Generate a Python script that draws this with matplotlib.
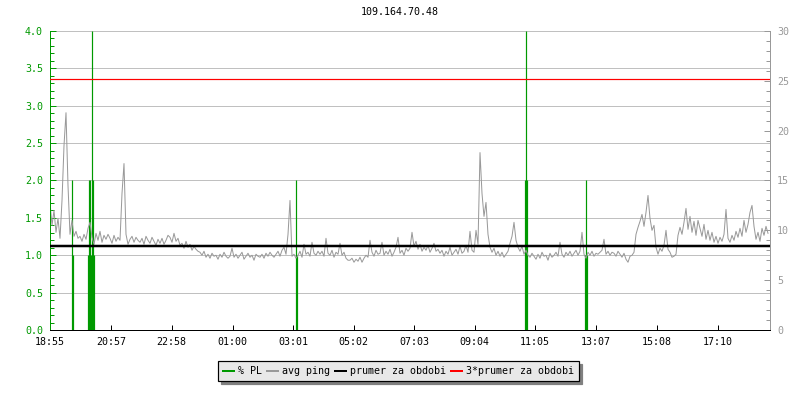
import numpy as np
import matplotlib
matplotlib.use("Agg")
import matplotlib.pyplot as plt
from matplotlib.lines import Line2D

## Data
host = "109.164.70.48"
tick_minutes = [0, 122, 243, 365, 486, 607, 728, 849, 970, 1092, 1213, 1335]
tick_labels = ["18:55", "20:57", "22:58", "01:00", "03:01", "05:02",
               "07:03", "09:04", "11:05", "13:07", "15:08", "17:10"]

# avg ping (ms), one value every 4 minutes starting 18:55, one row per hour
avg_ping = [
    12.8, 10.5, 12.0, 9.8, 11.2, 9.2, 13.0, 18.5, 21.8, 14.5, 9.6, 11.0, 9.4, 9.9, 9.2,
    9.4, 8.9, 9.6, 9.1, 10.2, 10.8, 9.3, 8.6, 9.7, 9.0, 9.9, 8.8, 9.5, 9.1, 9.6,
    9.2, 8.7, 9.5, 8.9, 9.3, 9.0, 13.7, 16.7, 9.6, 8.6, 9.1, 9.4, 8.8, 9.3, 9.0,
    8.8, 9.2, 8.6, 9.4, 9.0, 8.7, 9.3, 8.9, 8.5, 9.1, 8.7, 9.2, 8.6, 9.0, 9.5,
    9.3, 8.8, 9.7, 8.9, 9.2, 8.5, 8.7, 8.2, 8.9, 8.3, 8.6, 8.0, 8.4, 8.1, 7.9,
    7.8, 7.5, 7.9, 7.3, 7.6, 7.2, 7.7, 7.4, 7.5, 7.1, 7.6, 7.3, 7.8, 7.4, 7.2,
    7.4, 8.2, 7.3, 7.6, 7.2, 7.5, 7.8, 7.1, 7.4, 7.7, 7.3, 7.5, 7.0, 7.6, 7.4,
    7.3, 7.6, 7.2, 7.7, 7.4, 7.8, 7.5, 7.3, 7.6, 7.9, 7.4, 8.0, 8.3, 7.6, 9.6,
    13.0, 7.4, 7.6, 7.2, 7.5, 7.9, 7.3, 8.6, 7.6, 7.8, 7.4, 8.8, 7.7, 7.5, 7.9,
    7.6, 7.9, 7.4, 9.2, 7.7, 7.5, 8.0, 7.3, 7.8, 7.6, 8.7, 7.5, 7.8, 7.2, 7.0,
    7.0, 7.2, 6.8, 7.1, 6.9, 7.3, 6.8, 7.2, 7.5, 7.3, 9.0, 7.8, 7.4, 8.0, 7.6,
    7.7, 8.8, 7.5, 7.9, 7.6, 8.1, 7.4, 7.8, 8.3, 9.3, 7.7, 8.0, 7.5, 8.2, 7.9,
    8.2, 9.8, 8.4, 8.9, 8.1, 8.6, 7.9, 8.3, 8.0, 8.5, 7.8, 8.2, 8.7, 7.9, 8.1,
    7.7, 8.0, 7.4, 7.9, 7.6, 8.3, 7.5, 7.8, 8.1, 7.6, 8.4, 7.7, 7.9, 8.5, 7.8,
    9.9, 8.0, 7.8, 10.0, 8.6, 17.8, 13.7, 11.4, 12.8, 9.6, 8.3, 7.8, 8.2, 7.5, 7.9,
    7.4, 7.8, 7.3, 7.6, 7.9, 8.7, 9.4, 10.8, 9.0, 8.3, 7.9, 8.4, 7.6, 8.0, 7.5,
    7.3, 7.7, 7.4, 7.1, 7.6, 7.2, 7.8, 7.4, 7.5, 7.0, 7.7, 7.3, 7.5, 7.8, 7.4,
    8.8, 7.6, 7.3, 7.8, 7.5, 7.9, 7.4, 7.7, 8.0, 7.5, 7.9, 9.8, 7.6, 7.2, 7.8,
    7.5, 7.9, 7.4, 7.7, 7.6, 7.8, 8.0, 9.1, 7.6, 7.9, 7.5, 7.8, 7.7, 7.4, 7.9,
    7.6, 7.3, 7.7, 7.1, 6.8, 7.4, 7.5, 7.8, 9.6, 10.3, 10.9, 11.6, 10.4, 11.8, 13.5,
    11.2, 10.0, 10.5, 8.3, 7.6, 8.2, 7.9, 8.5, 10.0, 8.1, 7.8, 7.3, 7.4, 7.6, 9.5,
    10.3, 9.6, 10.8, 12.2, 10.1, 11.4, 9.8, 10.9, 9.5, 11.0, 10.2, 9.4, 10.6, 9.1, 10.0,
    9.0, 9.8, 8.8, 9.4, 8.7, 9.3, 8.9, 9.6, 12.1, 9.2, 8.8, 9.5, 9.0, 9.9, 9.3,
    10.2, 9.4, 11.0, 9.8, 10.6, 11.8, 12.5, 10.4, 9.1, 9.8, 8.9, 10.2, 9.5, 10.4, 9.7,
]
ping_step = 4  # minutes between samples

# packet loss events (minute offset, % PL)
pl_minutes = [43, 45, 76, 78, 80, 82, 84, 86, 88, 492, 494, 949, 951, 953, 1070, 1072, 1074]
pl_values = [2.0, 1.0, 1.0, 2.0, 2.0, 1.0, 4.0, 2.0, 1.0, 2.0, 1.0, 2.0, 4.0, 2.0, 1.0, 2.0, 1.0]

mean_ping = 8.4  # prumer za obdobi (ms)

GREEN = "#009900"
GRAY = "#999999"
MONO = "DejaVu Sans Mono"
px = 72 / 100  # one pixel in points at dpi 100

plt.rcParams["font.family"] = MONO
plt.rcParams["font.size"] = 7.2

fig = plt.figure(figsize=(8, 4), dpi=100)
ax = fig.add_axes([50 / 800, 1 - 330 / 400, 720 / 800, 299 / 400])
ax2 = ax.twinx()

## % PL on the left axis
ax.vlines(pl_minutes, 0, pl_values, color=GREEN, lw=1.2 * px, zorder=3)
ax.set_ylim(0, 4)
ax.set_xlim(0, 1440)
ax.set_yticks(np.arange(0, 4.01, 0.5))
ax.set_yticks(np.arange(0, 4.01, 0.1), minor=True)
ax.yaxis.set_major_formatter(matplotlib.ticker.FormatStrFormatter("%.1f"))
ax.grid(axis="y", color="#c0c0c0", lw=1 * px)
ax.set_axisbelow(True)
ax.set_xticks(tick_minutes)
ax.set_xticklabels(tick_labels)
ax.tick_params(axis="x", direction="in", length=5 * px, width=px, pad=5, colors="black")
ax.tick_params(axis="y", which="major", direction="in", length=6 * px, width=px,
               pad=5, colors=GREEN)
ax.tick_params(axis="y", which="minor", direction="in", length=4 * px, width=px, colors=GREEN)

## avg ping on the right axis
ping_minutes = np.arange(len(avg_ping)) * ping_step
ax2.plot(ping_minutes, avg_ping, color=GRAY, lw=1 * px, zorder=2)
ax2.axhline(mean_ping, color="black", lw=2.5 * px, zorder=4)
ax2.axhline(3 * mean_ping, color="red", lw=1.2 * px, zorder=3)
ax2.set_ylim(0, 30)
ax2.set_yticks(np.arange(0, 31, 5))
ax2.set_yticks(np.arange(0, 31, 1), minor=True)
ax2.tick_params(axis="y", which="major", direction="in", length=6 * px, width=px,
                pad=5, colors=GRAY)
ax2.tick_params(axis="y", which="minor", direction="in", length=4 * px, width=px, colors=GRAY)

for a in (ax, ax2):
    a.spines["top"].set_visible(False)
    a.spines["left"].set_color(GREEN)
    a.spines["right"].set_color(GRAY)
    a.spines["bottom"].set_color("black")
    for s in a.spines.values():
        s.set_linewidth(px)

fig.text(0.5, 1 - 12 / 400, host, ha="center", va="center", fontsize=7.2)

## legend at the bottom
handles = [
    Line2D([], [], color=GREEN, lw=2 * px),
    Line2D([], [], color=GRAY, lw=2 * px),
    Line2D([], [], color="black", lw=2 * px),
    Line2D([], [], color="red", lw=2 * px),
]
labels = ["% PL", "avg ping", "prumer za obdobi", "3*prumer za obdobi"]
leg = fig.legend(handles, labels, loc="center", bbox_to_anchor=(398.5 / 800, 1 - 371 / 400),
                 ncol=4, fontsize=7.2, frameon=True, fancybox=False,
                 shadow={"color": "#808080", "alpha": 1},
                 handlelength=1.1, handletextpad=0.4, columnspacing=0.5,
                 borderpad=0.5, borderaxespad=0)
leg.get_frame().set_facecolor("#e8e8e8")
leg.get_frame().set_edgecolor("black")
leg.get_frame().set_linewidth(1.2 * px)
leg.get_frame().set_alpha(1)

fig.savefig("out.png", dpi=100)
